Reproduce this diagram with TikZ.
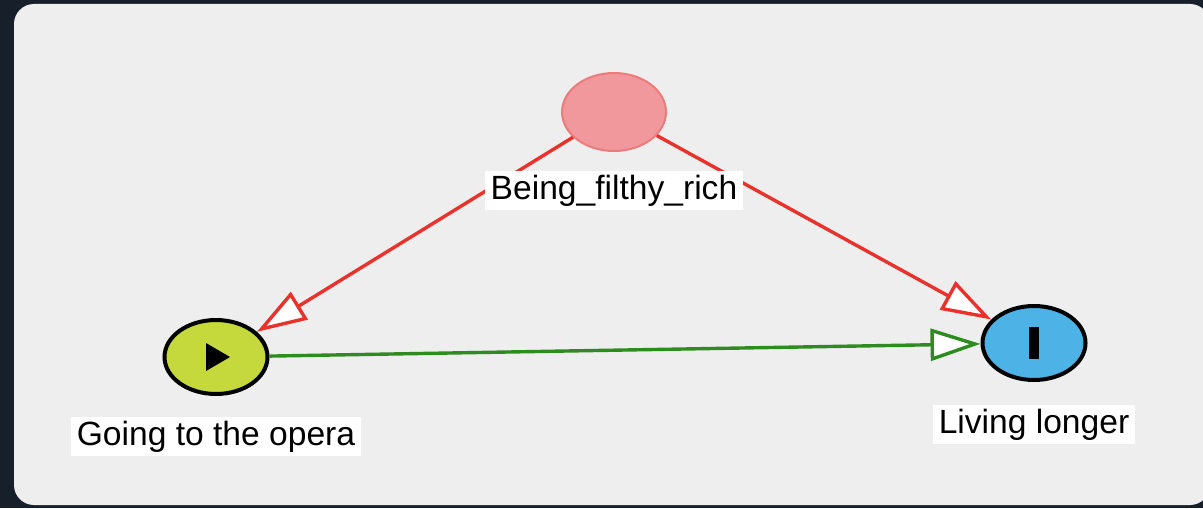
\documentclass[tikz,border=0pt]{standalone}
\usepackage{fontspec}
\setmainfont{Liberation Sans}
\usetikzlibrary{positioning,shapes.geometric,arrows.meta}

\definecolor{darkbg}{HTML}{17202A}
\definecolor{panelgray}{HTML}{EEEEEE}
\definecolor{richpink}{HTML}{F0989B}
\definecolor{richborder}{HTML}{EC7B7B}
\definecolor{operagreen}{HTML}{C6D93C}
\definecolor{livingblue}{HTML}{4DB3E6}
\definecolor{edgered}{HTML}{E8322B}
\definecolor{edgegreen}{HTML}{2E8B20}

\begin{document}
\begin{tikzpicture}[x=0.5pt,y=-0.5pt,
    varnode/.style={ellipse, minimum width=51.5pt, minimum height=37pt, inner sep=0pt},
    varlabel/.style={fill=white, inner xsep=3pt, inner ysep=2pt, text height=12pt, text depth=3.5pt,
        font=\fontsize{16.8}{20}\selectfont},
    causal/.style={line width=1.7pt, -{Triangle[fill=white, length=25pt, width=16pt]}}]

        % 1. Sfondo e pannello
        \useasboundingbox (0,0) rectangle (1203,508);
        \fill[darkbg] (0,0) rectangle (1203,508);
        \fill[panelgray, rounded corners=10pt] (14,4) rectangle (1210,505);

        % 2. Le tre variabili
        \node[varnode, fill=richpink, draw=richborder, line width=1pt, minimum height=39pt, minimum width=52pt] (rich) at (614,112) {};
        \node[varnode, fill=operagreen, draw=black, line width=2pt] (opera) at (216,357) {};
        \node[varnode, fill=livingblue, draw=black, line width=2pt] (living) at (1034,343) {};

        % 3. Simboli dentro i nodi
        \fill (opera.center) ++(-10,-14) -- ++(0,28) -- ++(24,-14) -- cycle;
        \fill ([shift={(-5,-16)}]living.center) rectangle ++(10,32);

        % 4. Frecce causali
        \draw[causal, edgered] (rich) -- (opera);
        \draw[causal, edgered] (rich) -- (living);
        \draw[causal, edgegreen] (opera) -- (living);

        % 5. Etichette sotto i nodi
        \node[varlabel, below=9.5pt of rich] (richlabel) {Being\_filthy\_rich};
        \node[varlabel, below=10.5pt of opera] (operalabel) {Going to the opera};
        \node[varlabel, below=11.5pt of living] (livinglabel) {Living longer};

    \end{tikzpicture}
\end{document}
